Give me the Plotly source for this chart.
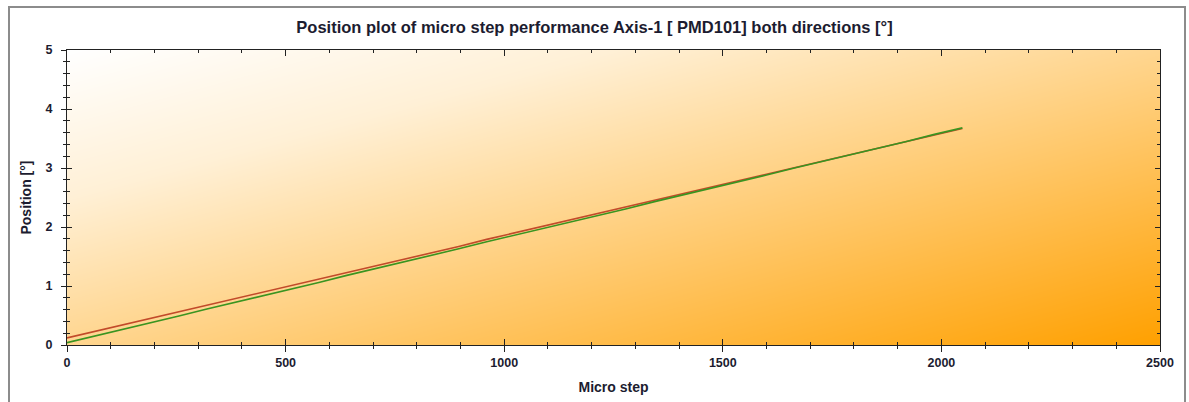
import plotly.graph_objects as go

# ---- data ----
micro_step = [0, 64, 128, 192, 256, 320, 384, 448, 512, 576, 640, 704, 768, 832, 896,
              960, 1024, 1088, 1152, 1216, 1280, 1344, 1408, 1472, 1536, 1600, 1664,
              1728, 1792, 1856, 1920, 1984, 2048]
pos_forward = [0.12, 0.23, 0.34, 0.45, 0.56, 0.68, 0.79, 0.90, 1.01, 1.12, 1.23, 1.34,
               1.45, 1.56, 1.67, 1.79, 1.90, 2.01, 2.12, 2.23, 2.34, 2.45, 2.56, 2.67,
               2.79, 2.90, 3.01, 3.12, 3.23, 3.34, 3.45, 3.56, 3.67]
pos_backward = [0.04, 0.15, 0.27, 0.38, 0.49, 0.61, 0.72, 0.84, 0.95, 1.06, 1.18, 1.29,
                1.40, 1.52, 1.63, 1.75, 1.86, 1.97, 2.09, 2.20, 2.31, 2.43, 2.54, 2.66,
                2.77, 2.88, 3.00, 3.11, 3.22, 3.34, 3.45, 3.57, 3.68]

x_ticks = [0, 500, 1000, 1500, 2000, 2500]
y_ticks = [0, 1, 2, 3, 4, 5]
x_range = [0, 2500]
y_range = [0, 5]

title_text = "Position plot of micro step performance Axis-1 [ PMD101] both directions [°]"
x_title = "Micro step"
y_title = "Position [°]"

# background gradient corner levels (style)
bg_levels = [[0.5, 1.0], [0.0, 0.5]]

FONT = "Liberation Sans"
TXT = "#1c1c30"

fig = go.Figure()

# gradient background on base axes
fig.add_trace(go.Heatmap(
    x=x_range, y=y_range, z=bg_levels, zsmooth="best",
    colorscale=[[0, "#ffffff"], [0.25, "#fff0d6"], [1, "#ffa000"]], zmin=0, zmax=1,
    showscale=False, hoverinfo="skip", xaxis="x", yaxis="y"))

fig.add_trace(go.Scatter(
    x=micro_step, y=pos_forward, mode="lines",
    line=dict(color="#c24a2a", width=1.6), xaxis="x2", yaxis="y2",
    showlegend=False))
fig.add_trace(go.Scatter(
    x=micro_step, y=pos_backward, mode="lines",
    line=dict(color="#3a9420", width=1.6), xaxis="x2", yaxis="y2",
    showlegend=False))

tick_font = dict(family=FONT, size=12.5, color=TXT, weight="bold")
title_font = dict(family=FONT, size=14, color=TXT, weight="bold")

fig.update_layout(
    width=1189, height=402,
    margin=dict(l=67, r=29, t=50, b=57),
    paper_bgcolor="white",
    plot_bgcolor="white",
    showlegend=False,
    title=dict(text=title_text, x=0.5, xanchor="center", y=0.933, yanchor="middle",
               font=dict(family=FONT, size=16.5, color=TXT, weight="bold")),
    xaxis=dict(range=x_range, tickvals=x_ticks, ticks="outside", ticklen=6,
               tickcolor="#222", tickwidth=1, showline=True, linecolor="#222",
               linewidth=1, showgrid=False, zeroline=False, tickfont=tick_font,
               automargin=False,
               minor=dict(dtick=100, ticks="outside", ticklen=3, tickcolor="#222"),
               title=dict(text=x_title, font=title_font, standoff=13),
               fixedrange=True),
    yaxis=dict(range=y_range, tickvals=y_ticks, ticks="outside", ticklen=5,
               tickcolor="#222", tickwidth=1, showline=True, linecolor="#222",
               linewidth=1, showgrid=False, zeroline=False, tickfont=tick_font,
               ticklabelstandoff=6, automargin=False,
               minor=dict(dtick=0.2, ticks="outside", ticklen=3, tickcolor="#222"),
               title=dict(text=y_title, font=title_font, standoff=10),
               fixedrange=True),
    xaxis2=dict(range=x_range, overlaying="x", anchor="y2", tickvals=x_ticks,
                ticks="inside", ticklen=6, tickcolor="#222", showticklabels=False,
                showline=True, linecolor="#222", mirror="ticks", showgrid=False,
                zeroline=False, automargin=False,
                minor=dict(dtick=100, ticks="inside", ticklen=3, tickcolor="#222"),
                fixedrange=True),
    yaxis2=dict(range=y_range, overlaying="y", anchor="x2", tickvals=y_ticks,
                ticks="inside", ticklen=5, tickcolor="#222", showticklabels=False,
                showline=True, linecolor="#222", mirror="ticks", showgrid=False,
                zeroline=False, automargin=False,
                minor=dict(dtick=0.2, ticks="inside", ticklen=3, tickcolor="#222"),
                fixedrange=True),
)

# outer grey frame (paper coords relative to plot area)
fig.add_shape(type="rect", xref="paper", yref="paper",
              x0=-58 / 1093, x1=1118 / 1093, y0=-60 / 295, y1=338 / 295,
              line=dict(color="#8c8c8c", width=2), fillcolor="rgba(0,0,0,0)",
              layer="below")

fig.write_html("out.html", config={"displayModeBar": False})
